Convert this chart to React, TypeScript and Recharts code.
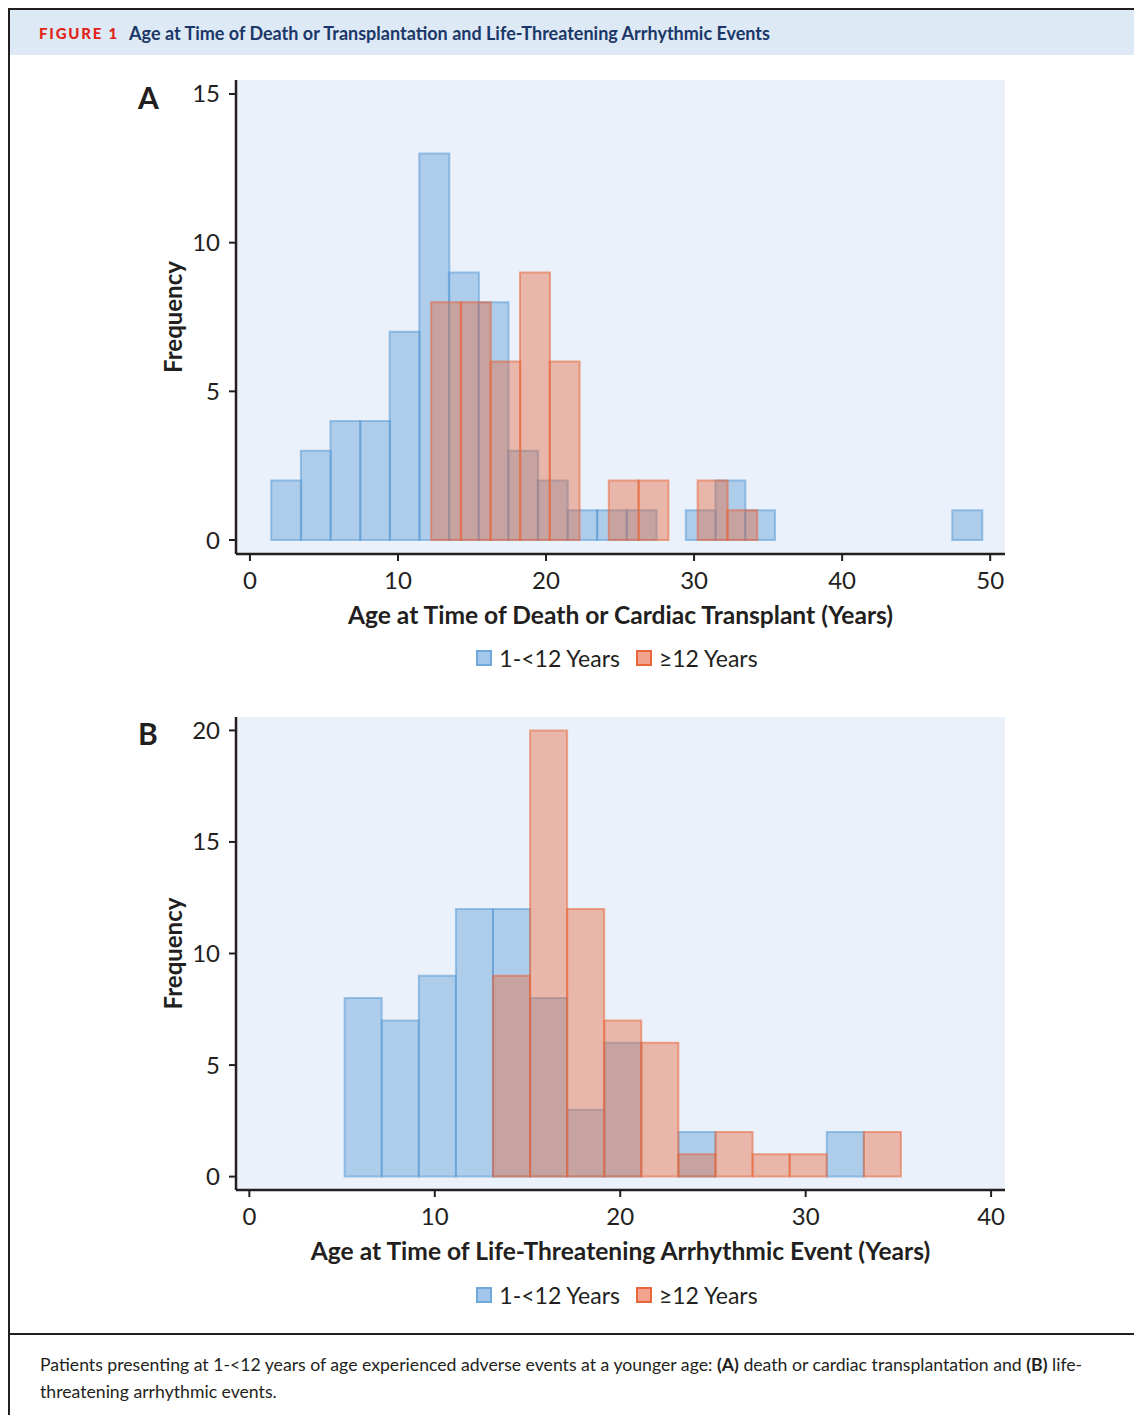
import React from 'react';
import { ComposedChart, Bar, XAxis, YAxis, CartesianGrid } from 'recharts';

// ---------- Data ----------
// Panel A: age at time of death or cardiac transplant (2-year bins, centres in years)
const deathYoungBinCenters = [2.44, 4.44, 6.44, 8.44, 10.44, 12.44, 14.44, 16.44, 18.44, 20.44, 22.44, 24.44, 26.44, 28.44, 30.44, 32.44, 34.44, 36.44, 38.44, 40.44, 42.44, 44.44, 46.44, 48.44];
const deathYoungCounts = [2, 3, 4, 4, 7, 13, 9, 8, 3, 2, 1, 1, 1, 0, 1, 2, 1, 0, 0, 0, 0, 0, 0, 1];
const deathOlderBinCenters = [13.24, 15.24, 17.24, 19.24, 21.24, 23.24, 25.24, 27.24, 29.24, 31.24, 33.24];
const deathOlderCounts = [8, 8, 6, 9, 6, 0, 2, 2, 0, 2, 1];
const deathXTicks = [0, 10, 20, 30, 40, 50];
const deathYTicks = [0, 5, 10, 15];

// Panel B: age at time of life-threatening arrhythmic event
const arrhythmiaYoungBinCenters = [6.14, 8.14, 10.14, 12.14, 14.14, 16.14, 18.14, 20.14, 22.14, 24.14, 26.14, 28.14, 30.14, 32.14];
const arrhythmiaYoungCounts = [8, 7, 9, 12, 12, 8, 3, 6, 0, 2, 0, 0, 0, 2];
const arrhythmiaOlderBinCenters = [14.14, 16.14, 18.14, 20.14, 22.14, 24.14, 26.14, 28.14, 30.14, 32.14, 34.14];
const arrhythmiaOlderCounts = [9, 20, 12, 7, 6, 1, 2, 1, 1, 0, 2];
const arrhythmiaXTicks = [0, 10, 20, 30, 40];
const arrhythmiaYTicks = [0, 5, 10, 15, 20];

const seriesNames = ['1-<12 Years', '\u226512 Years'];

// ---------- Styles ----------
const INK = '#231F20';
const PLOT_BG = '#EAF1FA';
const BLUE = '#5B9BD5';
const RED = '#E8663A';
const FONT = "Lato, 'Open Sans', 'Noto Sans', sans-serif";

const CHART_W = 900;
const Y_AXIS_W = 116;
const X_AXIS_H = 80;
const MARGIN = { top: 10, right: 15, left: 0, bottom: 0 };

type HistProps = {
  height: number;
  young: { x: number; count: number }[];
  older: { x: number; count: number }[];
  xDomain: [number, number];
  yDomain: [number, number];
  xTicks: number[];
  yTicks: number[];
  xLabel: string;
};

function axisLabelX(text: string) {
  return (props: any) => {
    const vb = props.viewBox || {};
    return (
      <text
        x={vb.x + vb.width / 2}
        y={vb.y + 70}
        textAnchor="middle"
        fill={INK}
        fontSize={24.6}
        fontWeight={700}
        fontFamily={FONT}
      >
        {text}
      </text>
    );
  };
}

function axisLabelY(text: string) {
  return (props: any) => {
    const vb = props.viewBox || {};
    const cx = vb.x + 52;
    const cy = vb.y + vb.height / 2;
    return (
      <text
        x={cx}
        y={cy}
        transform={`rotate(-90, ${cx}, ${cy})`}
        textAnchor="middle"
        dominantBaseline="central"
        fill={INK}
        fontSize={24}
        fontWeight={700}
        fontFamily={FONT}
      >
        {text}
      </text>
    );
  };
}

function HistLayer({ height, data, color, xDomain, yDomain, xTicks, yTicks, xLabel, base }: any) {
  return (
    <ComposedChart
      width={CHART_W}
      height={height}
      data={data}
      margin={MARGIN}
      barCategoryGap={0}
      barGap={0}
    >
      {base && <CartesianGrid horizontal={false} vertical={false} fill={PLOT_BG} stroke="none" />}
      <XAxis
        dataKey="x"
        type="number"
        domain={xDomain}
        allowDataOverflow
        ticks={xTicks}
        height={X_AXIS_H}
        tickSize={7}
        tickMargin={11}
        axisLine={base ? { stroke: INK, strokeWidth: 2.5 } : false}
        tickLine={base ? { stroke: INK, strokeWidth: 2 } : false}
        tick={base ? { fill: INK, fontSize: 24, fontFamily: FONT } : false}
        label={base ? { content: axisLabelX(xLabel) } : undefined}
      />
      <YAxis
        type="number"
        domain={yDomain}
        allowDataOverflow
        ticks={yTicks}
        width={Y_AXIS_W}
        tickSize={7}
        tickMargin={9}
        axisLine={base ? { stroke: INK, strokeWidth: 2.5 } : false}
        tickLine={base ? { stroke: INK, strokeWidth: 2 } : false}
        tick={base ? { fill: INK, fontSize: 24, fontFamily: FONT } : false}
        label={base ? { content: axisLabelY('Frequency') } : undefined}
      />
      <Bar
        dataKey="count"
        fill={color}
        fillOpacity={0.42}
        stroke={color}
        strokeOpacity={0.55}
        strokeWidth={2}
        isAnimationActive={false}
      />
    </ComposedChart>
  );
}

function Histogram(p: HistProps) {
  return (
    <div style={{ position: 'relative', width: CHART_W, height: p.height }}>
      <div style={{ position: 'absolute', left: 0, top: 0 }}>
        <HistLayer {...p} data={p.young} color={BLUE} base />
      </div>
      <div style={{ position: 'absolute', left: 0, top: 0 }}>
        <HistLayer {...p} data={p.older} color={RED} base={false} />
      </div>
    </div>
  );
}

function Legend({ top }: { top: number }) {
  const items = [
    { name: seriesNames[0], fill: '#A3C6EA', stroke: '#6FA8DC' },
    { name: seriesNames[1], fill: '#F3A38D', stroke: '#E8663A' },
  ];
  return (
    <div
      style={{
        position: 'absolute',
        left: 307,
        width: 600,
        top,
        height: 30,
        display: 'flex',
        justifyContent: 'center',
        alignItems: 'center',
        fontSize: 23,
        color: INK,
        fontFamily: FONT,
      }}
    >
      {items.map((it, i) => (
        <div key={i} style={{ display: 'flex', alignItems: 'center', marginLeft: i === 0 ? 0 : 16 }}>
          <div
            style={{
              width: 16,
              height: 16,
              boxSizing: 'border-box',
              background: it.fill,
              border: `2px solid ${it.stroke}`,
              marginRight: 7,
            }}
          />
          <span style={{ lineHeight: '30px' }}>{it.name}</span>
        </div>
      ))}
    </div>
  );
}

const toRows = (xs: number[], cs: number[]) => xs.map((x, i) => ({ x, count: cs[i] }));

export default function App() {
  const deathYoung = toRows(deathYoungBinCenters, deathYoungCounts);
  const deathOlder = toRows(deathOlderBinCenters, deathOlderCounts);
  const arrYoung = toRows(arrhythmiaYoungBinCenters, arrhythmiaYoungCounts);
  const arrOlder = toRows(arrhythmiaOlderBinCenters, arrhythmiaOlderCounts);

  return (
    <div
      style={{
        position: 'relative',
        width: 1131,
        minWidth: 1131,
        height: 1415,
        marginBottom: -8,
        boxSizing: 'border-box',
        borderLeft: `2px solid ${INK}`,
        borderRight: `2px solid ${INK}`,
        borderTop: `2px solid ${INK}`,
        fontFamily: FONT,
        color: INK,
        background: '#fff',
        overflow: 'hidden',
      }}
    >
      <style>{'html, body { overflow: hidden; }'}</style>
      {/* Header */}
      <div
        style={{
          position: 'absolute',
          left: 0,
          top: 0,
          width: 1127,
          height: 45,
          background: '#DDE9F5',
          display: 'flex',
          alignItems: 'center',
        }}
      >
        <span
          style={{
            marginLeft: 29,
            color: '#E2231A',
            fontWeight: 900,
            fontSize: 15,
            letterSpacing: 1.8,
          }}
        >
          FIGURE 1
        </span>
        <span style={{ marginLeft: 10, color: '#1B3768', fontWeight: 700, fontSize: 18 }}>
          Age at Time of Death or Transplantation and Life-Threatening Arrhythmic Events
        </span>
      </div>

      {/* Panel A */}
      <div style={{ position: 'absolute', left: 128, top: 70, fontSize: 30, fontWeight: 700, lineHeight: '34px' }}>A</div>
      <div style={{ position: 'absolute', left: 110, top: 60 }}>
        <Histogram
          height={564}
          young={deathYoung}
          older={deathOlder}
          xDomain={[-0.94, 51.0]}
          yDomain={[-0.47, 15.47]}
          xTicks={deathXTicks}
          yTicks={deathYTicks}
          xLabel="Age at Time of Death or Cardiac Transplant (Years)"
        />
      </div>
      <Legend top={633} />

      {/* Panel B */}
      <div style={{ position: 'absolute', left: 128, top: 706, fontSize: 30, fontWeight: 700, lineHeight: '34px' }}>B</div>
      <div style={{ position: 'absolute', left: 110, top: 697 }}>
        <Histogram
          height={563}
          young={arrYoung}
          older={arrOlder}
          xDomain={[-0.72, 40.75]}
          yDomain={[-0.6, 20.6]}
          xTicks={arrhythmiaXTicks}
          yTicks={arrhythmiaYTicks}
          xLabel="Age at Time of Life-Threatening Arrhythmic Event (Years)"
        />
      </div>
      <Legend top={1270} />

      {/* Separator + caption */}
      <div style={{ position: 'absolute', left: 0, top: 1323, width: 1127, height: 2, background: INK }} />
      <div
        style={{
          position: 'absolute',
          left: 30,
          top: 1341,
          fontSize: 17.65,
          lineHeight: '27px',
          whiteSpace: 'nowrap',
          color: INK,
        }}
      >
        Patients presenting at 1-&lt;12 years of age experienced adverse events at a younger age: <b>(A)</b> death or
        cardiac transplantation and <b>(B)</b> life-
        <br />
        threatening arrhythmic events.
      </div>
    </div>
  );
}
